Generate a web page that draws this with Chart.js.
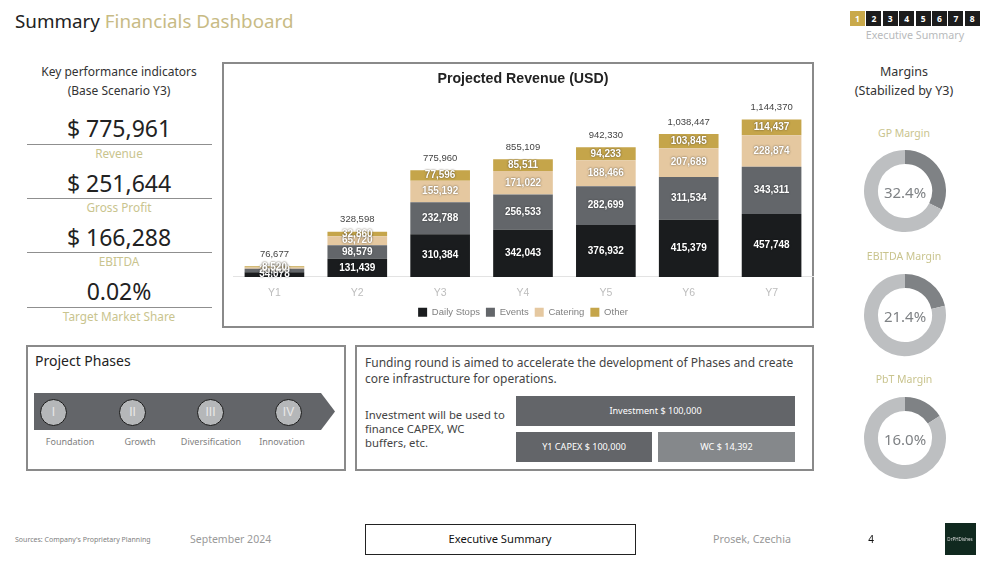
<!DOCTYPE html>
<html>
<head>
<meta charset="utf-8">
<title>Summary Financials Dashboard</title>
<script src="https://cdn.jsdelivr.net/npm/chart.js@4"></script>
<style>
    html, body { margin: 0; padding: 0; background: #fff; }
    #page { position: relative; width: 1000px; height: 564px; overflow: hidden; font-family: "Noto Sans", sans-serif; color: #333; }
    #page div, #page canvas { position: absolute; }
    .t { white-space: nowrap; line-height: 1; transform: translate(-50%, -50%); }
    .l { white-space: nowrap; line-height: 1; transform: translateY(-50%); }
    .box { border: 2px solid #8a8a8a; box-sizing: border-box; }
    .kpi { font-size: 23px; color: #222; }
    .gold { font-size: 11.8px; color: #c9c48e; }
    .margin { font-size: 10.5px; color: #c9c48e; }
    .rule { left: 27px; width: 185px; height: 1px; background: #8f8f8f; }
    .nav { top: 11px; width: 15px; height: 15px; background: #1c1c1c; color: #fff; font-size: 8.5px; font-weight: bold; text-align: center; line-height: 15px; }
    .circle { width: 25px; height: 25px; border-radius: 50%; background: #b5b7b9; border: 1px solid #1a1a1a; color: #e8e8e8; font-family: "Liberation Sans", sans-serif; font-size: 12px; line-height: 25px; text-align: center; top: 399px; }
    .phase { font-size: 9px; color: #808080; top: 441px; }
    .block { color: #fff; font-size: 9.1px; text-align: center; line-height: 30px; height: 30px; }
    .center { font-size: 15px; color: #7f8285; }
</style>
</head>
<body>
<div id="page">
    <div class="l" style="left:15px;top:21px;font-size:18.8px;color:#222">Summary <span style="color:#c8bb85">Financials Dashboard</span></div>

    <div id="nav"></div>
    <div class="t" style="left:915px;top:35px;font-size:10.7px;color:#b8babc">Executive Summary</div>

    <div class="t" style="left:119px;top:72px;font-size:12px">Key performance indicators</div>
    <div class="t" style="left:119px;top:91px;font-size:12px">(Base Scenario Y3)</div>
    <div class="t kpi" style="left:119px;top:128px">$ 775,961</div>
    <div class="rule" style="top:144px"></div>
    <div class="t gold" style="left:119px;top:154px">Revenue</div>
    <div class="t kpi" style="left:119px;top:183px">$ 251,644</div>
    <div class="rule" style="top:198px"></div>
    <div class="t gold" style="left:119px;top:208px">Gross Profit</div>
    <div class="t kpi" style="left:119px;top:237px">$ 166,288</div>
    <div class="rule" style="top:252px"></div>
    <div class="t gold" style="left:119px;top:262px">EBITDA</div>
    <div class="t kpi" style="left:119px;top:291px">0.02%</div>
    <div class="rule" style="top:307px"></div>
    <div class="t gold" style="left:119px;top:317px">Target Market Share</div>

    <div class="box" style="left:222px;top:62px;width:592px;height:266px"></div>
    <canvas id="revenueChart" style="left:222px;top:64px;width:602px;height:264px"></canvas>

    <div class="t" style="left:904px;top:72px;font-size:12.5px">Margins</div>
    <div class="t" style="left:904px;top:91px;font-size:12.5px">(Stabilized by Y3)</div>
    <div class="t margin" style="left:904px;top:133px">GP Margin</div>
    <canvas id="gpChart" style="left:860px;top:146px;width:90px;height:90px"></canvas>
    <div class="t center" style="left:905px;top:192px">32.4%</div>
    <div class="t margin" style="left:904px;top:256px">EBITDA Margin</div>
    <canvas id="ebitdaChart" style="left:860px;top:270px;width:90px;height:90px"></canvas>
    <div class="t center" style="left:905px;top:316px">21.4%</div>
    <div class="t margin" style="left:904px;top:379px">PbT Margin</div>
    <canvas id="pbtChart" style="left:860px;top:393px;width:90px;height:90px"></canvas>
    <div class="t center" style="left:905px;top:439px">16.0%</div>

    <div class="box" style="left:26px;top:345px;width:320px;height:126px"></div>
    <div class="l" style="left:35px;top:361px;font-size:14px;color:#222">Project Phases</div>
    <div style="left:34px;top:393px;width:301px;height:37px;background:#636569;clip-path:polygon(0 0,287px 0,100% 50%,287px 100%,0 100%)"></div>
    <div class="circle" style="left:40px">I</div>
    <div class="circle" style="left:119px">II</div>
    <div class="circle" style="left:197px">III</div>
    <div class="circle" style="left:275px">IV</div>
    <div class="t phase" style="left:70px">Foundation</div>
    <div class="t phase" style="left:140px">Growth</div>
    <div class="t phase" style="left:211px">Diversification</div>
    <div class="t phase" style="left:282px">Innovation</div>

    <div class="box" style="left:355px;top:345px;width:459px;height:126px"></div>
    <div class="l" style="left:365px;top:363px;font-size:12px;color:#444">Funding round is aimed to accelerate the development of Phases and create</div>
    <div class="l" style="left:365px;top:379px;font-size:12px;color:#444">core infrastructure for operations.</div>
    <div class="l" style="left:365px;top:415px;font-size:11.3px;color:#444">Investment will be used to</div>
    <div class="l" style="left:365px;top:429px;font-size:11.3px;color:#444">finance CAPEX, WC</div>
    <div class="l" style="left:365px;top:443px;font-size:11.3px;color:#444">buffers, etc.</div>
    <div class="block" style="left:516px;top:396px;width:279px;background:#636569">Investment $ 100,000</div>
    <div class="block" style="left:516px;top:432px;width:136px;background:#636569">Y1 CAPEX $ 100,000</div>
    <div class="block" style="left:658px;top:432px;width:137px;background:#85888b">WC $ 14,392</div>

    <div class="l" style="left:15px;top:539px;font-size:7px;color:#808080">Sources: Company's Proprietary Planning</div>
    <div class="l" style="left:190px;top:539px;font-size:10.5px;color:#999">September 2024</div>
    <div class="box" style="left:365px;top:524px;width:271px;height:31px;border-color:#222;border-width:1px"></div>
    <div class="t" style="left:500px;top:539px;font-size:11.2px;color:#111">Executive Summary</div>
    <div class="l" style="left:713px;top:539px;font-size:10.7px;color:#999">Prosek, Czechia</div>
    <div class="t" style="left:871px;top:539px;font-size:10px;color:#111">4</div>
    <div style="left:945px;top:523px;width:31px;height:32px;background:#10291f"></div>
    <div class="t" style="left:960px;top:539px;font-size:4.5px;color:#ddd">DrPHDishes</div>
</div>

<script>
    // --- Datos ---
    const years = ['Y1', 'Y2', 'Y3', 'Y4', 'Y5', 'Y6', 'Y7'];
    const dailyStops = [34078, 131439, 310384, 342043, 376932, 415379, 457748];
    const events = [25559, 98579, 232788, 256533, 282699, 311534, 343311];
    const catering = [8520, 65720, 155192, 171022, 188466, 207689, 228874];
    const other = [8520, 32860, 77596, 85511, 94233, 103845, 114437];
    const totals = [76677, 328598, 775960, 855109, 942330, 1038447, 1144370];

    const gpMargin = [32.4, 67.6];
    const ebitdaMargin = [21.4, 78.6];
    const pbtMargin = [16.0, 84.0];

    const navPages = ['1', '2', '3', '4', '5', '6', '7', '8'];

    const BAR_FONT = '"Liberation Sans", Arial, sans-serif';

    // Cuadros de navegacion
    const nav = document.getElementById('nav');
    navPages.forEach((page, i) => {
        const item = document.createElement('div');
        item.className = 'nav';
        item.textContent = page;
        item.style.left = (850 + i * 16.4) + 'px';
        if (i === 0) item.style.background = '#c9a94a';
        nav.appendChild(item);
    });

    // Etiquetas de cada segmento y total arriba de la barra
    const barLabels = {
        id: 'barLabels',
        afterDatasetsDraw(chart) {
            const ctx = chart.ctx;
            ctx.save();
            ctx.textAlign = 'center';
            ctx.textBaseline = 'middle';

            chart.data.datasets.forEach((dataset, i) => {
                const meta = chart.getDatasetMeta(i);
                meta.data.forEach((bar, j) => {
                    ctx.font = 'bold 10px ' + BAR_FONT;
                    ctx.fillStyle = '#fff';
                    ctx.shadowColor = i >= 2 ? 'rgba(70,60,40,.9)' : 'rgba(0,0,0,.5)';
                    ctx.shadowBlur = 2;
                    ctx.fillText(dataset.data[j].toLocaleString('en-US'), bar.x, (bar.y + bar.base) / 2);
                });
            });

            ctx.shadowBlur = 0;
            ctx.shadowColor = 'transparent';
            ctx.font = '9.5px ' + BAR_FONT;
            ctx.fillStyle = '#444';
            const topMeta = chart.getDatasetMeta(chart.data.datasets.length - 1);
            topMeta.data.forEach((bar, j) => {
                ctx.fillText(totals[j].toLocaleString('en-US'), bar.x, bar.y - 12);
            });
            ctx.restore();
        }
    };

    new Chart(document.getElementById('revenueChart'), {
        type: 'bar',
        data: {
            labels: years,
            datasets: [
                { label: 'Daily Stops', data: dailyStops, backgroundColor: '#1a1c1e' },
                { label: 'Events', data: events, backgroundColor: '#63666a' },
                { label: 'Catering', data: catering, backgroundColor: '#e5c8a0' },
                { label: 'Other', data: other, backgroundColor: '#c5a54a' }
            ]
        },
        options: {
            responsive: false,
            animation: false,
            barPercentage: 0.72,
            categoryPercentage: 1,
            layout: { padding: { left: 11, right: 11, top: 2, bottom: 1 } },
            scales: {
                x: {
                    stacked: true,
                    grid: { display: false, drawTicks: false },
                    border: { color: '#e3e3e3' },
                    ticks: { color: '#bdbdbd', font: { family: BAR_FONT, size: 10.5 }, padding: 10 },
                    afterFit: scale => { scale.height -= 8; }
                },
                y: { stacked: true, display: false, min: 0, max: 1315000 }
            },
            plugins: {
                title: {
                    display: true,
                    text: 'Projected Revenue (USD)',
                    color: '#222',
                    font: { family: BAR_FONT, size: 14.2, weight: 'bold' },
                    padding: { top: 5, bottom: 8 }
                },
                legend: {
                    position: 'bottom',
                    labels: { boxWidth: 9, boxHeight: 9, color: '#808080', font: { family: BAR_FONT, size: 9.5 }, padding: 6 }
                },
                tooltip: { enabled: false }
            }
        },
        plugins: [barLabels]
    });

    function createMarginChart(id, values) {
        new Chart(document.getElementById(id), {
            type: 'doughnut',
            data: {
                labels: ['Margin', 'Rest'],
                datasets: [{ data: values, backgroundColor: ['#7f8285', '#bdbfc1'], borderWidth: 0 }]
            },
            options: {
                responsive: false,
                animation: false,
                cutout: '66%',
                layout: { padding: 4 },
                plugins: { legend: { display: false }, tooltip: { enabled: false } }
            }
        });
    }

    createMarginChart('gpChart', gpMargin);
    createMarginChart('ebitdaChart', ebitdaMargin);
    createMarginChart('pbtChart', pbtMargin);
</script>
</body>
</html>
